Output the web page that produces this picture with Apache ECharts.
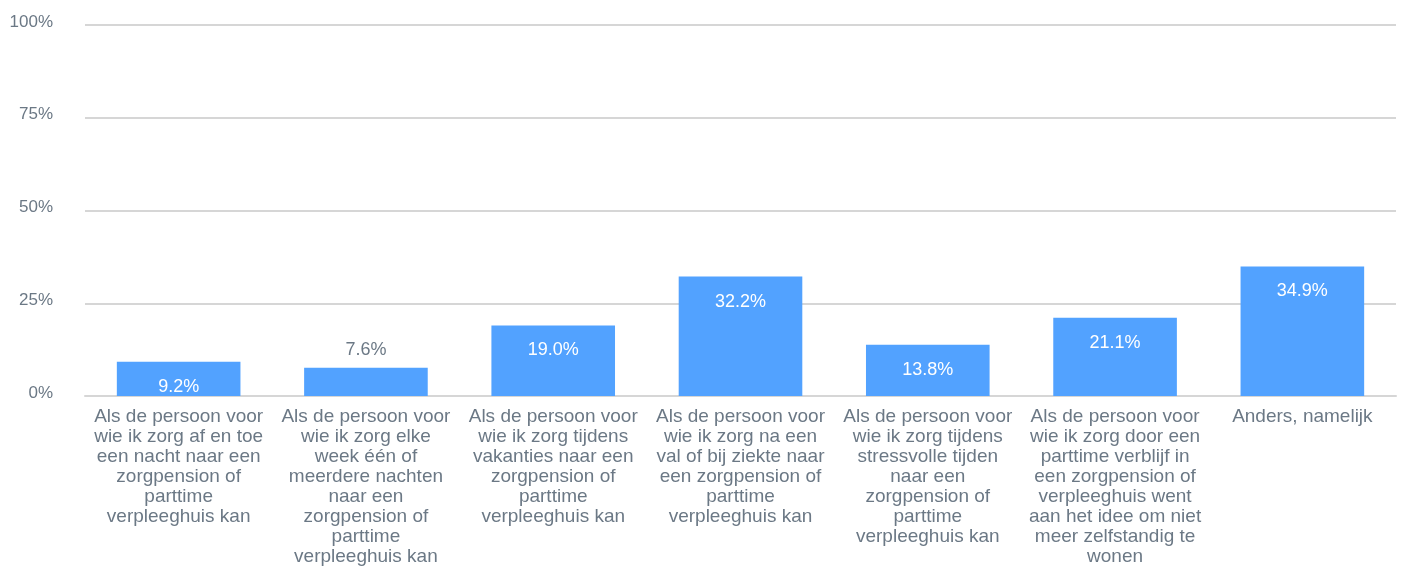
<!DOCTYPE html>
<html>
<head>
<meta charset="utf-8">
<script src="https://cdn.jsdelivr.net/npm/echarts@6/dist/echarts.min.js"></script>
<style>
html,body{margin:0;padding:0;background:#fff;}
#chart{width:1406px;height:568px;}
</style>
</head>
<body>
<div id="chart"></div>
<script>
var categories = [
  "Als de persoon voor\nwie ik zorg af en toe\neen nacht naar een\nzorgpension of\nparttime\nverpleeghuis kan",
  "Als de persoon voor\nwie ik zorg elke\nweek één of\nmeerdere nachten\nnaar een\nzorgpension of\nparttime\nverpleeghuis kan",
  "Als de persoon voor\nwie ik zorg tijdens\nvakanties naar een\nzorgpension of\nparttime\nverpleeghuis kan",
  "Als de persoon voor\nwie ik zorg na een\nval of bij ziekte naar\neen zorgpension of\nparttime\nverpleeghuis kan",
  "Als de persoon voor\nwie ik zorg tijdens\nstressvolle tijden\nnaar een\nzorgpension of\nparttime\nverpleeghuis kan",
  "Als de persoon voor\nwie ik zorg door een\nparttime verblijf in\neen zorgpension of\nverpleeghuis went\naan het idee om niet\nmeer zelfstandig te\nwonen",
  "Anders, namelijk"
];
var values = [9.2, 7.6, 19.0, 32.2, 13.8, 21.1, 34.9];
var labelOutside = [false, true, false, false, false, false, false];
var yTicks = [0, 25, 50, 75, 100];

var textGrey = '#6b7885';
var fontFam = '"Liberation Sans", Arial, Helvetica, sans-serif';

var seriesData = values.map(function (v, i) {
  var item = { value: v };
  if (labelOutside[i]) {
    item.label = { position: 'top', color: textGrey, distance: 9 };
  }
  return item;
});

var chart = echarts.init(document.getElementById('chart'), null, { renderer: 'canvas' });
chart.setOption({
  animation: false,
  backgroundColor: '#ffffff',
  grid: { left: 85, right: 10, top: 25, bottom: 172, containLabel: false },
  xAxis: {
    type: 'category',
    data: categories,
    axisLine: { show: true, lineStyle: { color: '#d6d6d6', width: 2 } },
    axisTick: { show: false },
    axisLabel: {
      interval: 0,
      color: textGrey,
      fontFamily: fontFam,
      fontSize: 19,
      lineHeight: 20,
      margin: 11,
      align: 'center'
    }
  },
  yAxis: {
    type: 'value',
    min: yTicks[0],
    max: yTicks[yTicks.length - 1],
    interval: 25,
    axisLine: { show: false },
    axisTick: { show: false },
    splitLine: { show: true, lineStyle: { color: '#d6d6d6', width: 2 } },
    axisLabel: {
      color: textGrey,
      fontFamily: fontFam,
      fontSize: 17,
      margin: 32,
      verticalAlign: 'bottom',
      lineHeight: 6,
      formatter: function (v) { return v + '%'; }
    }
  },
  series: [{
    type: 'bar',
    data: seriesData,
    barWidth: '66%',
    itemStyle: { color: '#52a2ff' },
    label: {
      show: true,
      position: 'insideTop',
      distance: 16,
      color: '#ffffff',
      fontFamily: fontFam,
      fontSize: 18,
      formatter: function (p) { return p.value.toFixed(1) + '%'; }
    }
  }]
});
</script>
</body>
</html>
